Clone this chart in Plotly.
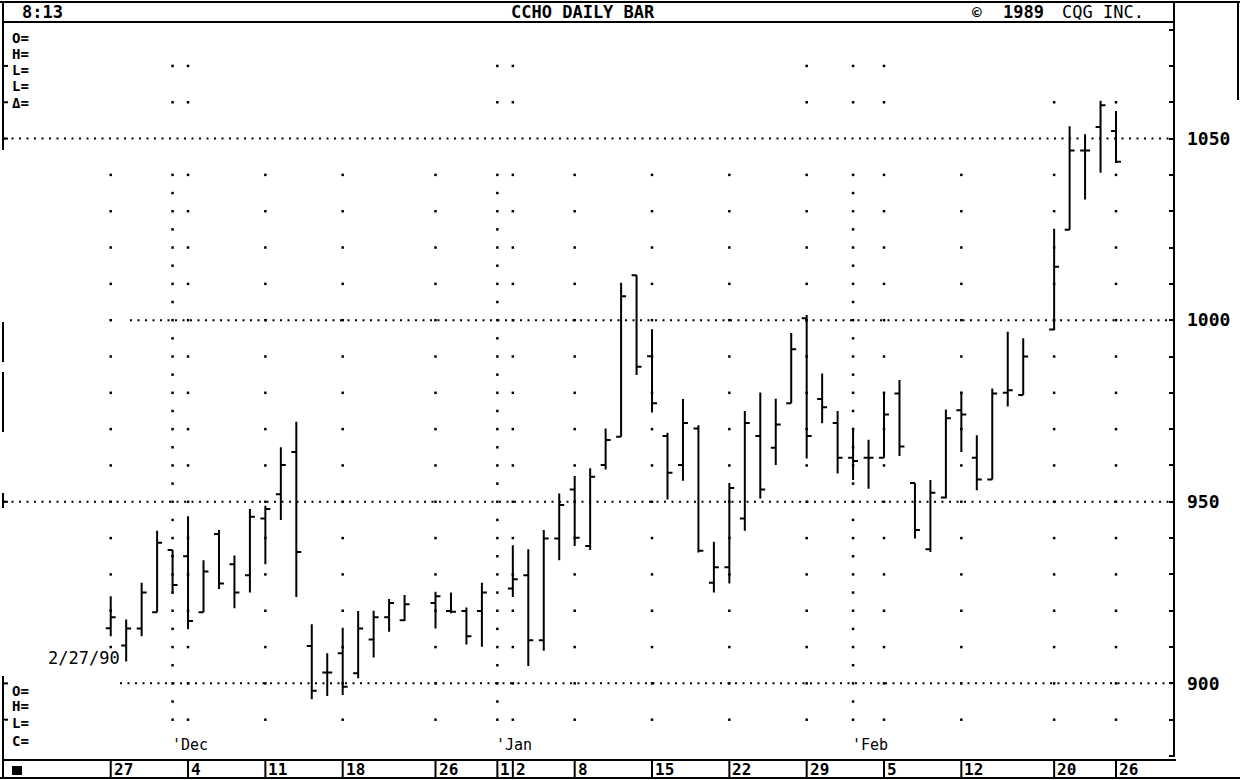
import numpy as np
import plotly.graph_objects as go

# daily bars, Nov 27 1989 - Feb 26 1990
dates = [
    "1989-11-27", "1989-11-28", "1989-11-29", "1989-11-30", "1989-12-01",
    "1989-12-04", "1989-12-05", "1989-12-06", "1989-12-07", "1989-12-08",
    "1989-12-11", "1989-12-12", "1989-12-13", "1989-12-14", "1989-12-15",
    "1989-12-18", "1989-12-19", "1989-12-20", "1989-12-21", "1989-12-22",
    "1989-12-26", "1989-12-27", "1989-12-28", "1989-12-29",
    "1990-01-02", "1990-01-03", "1990-01-04", "1990-01-05",
    "1990-01-08", "1990-01-09", "1990-01-10", "1990-01-11", "1990-01-12",
    "1990-01-15", "1990-01-16", "1990-01-17", "1990-01-18", "1990-01-19",
    "1990-01-22", "1990-01-23", "1990-01-24", "1990-01-25", "1990-01-26",
    "1990-01-29", "1990-01-30", "1990-01-31", "1990-02-01", "1990-02-02",
    "1990-02-05", "1990-02-06", "1990-02-07", "1990-02-08", "1990-02-09",
    "1990-02-12", "1990-02-13", "1990-02-14", "1990-02-15", "1990-02-16",
    "1990-02-20", "1990-02-21", "1990-02-22", "1990-02-23", "1990-02-26",
]
opens = [
    915.2, 910.4, 915.1, 919.6, 936.7,
    935.0, 919.6, 941.1, 932.8, 929.8,
    945.4, 952.1, 963.7, 910.3, 903.0,
    908.3, 902.8, 912.1, 918.2, 917.4,
    922.1, 919.9, 919.9, 919.9,
    926.1, 929.8, 911.9, 939.9,
    953.4, 937.8, 960.1, 967.9, 1012.4,
    990.1, 968.1, 960.1, 970.2, 927.7,
    932.0, 945.4, 968.1, 964.9, 977.1,
    1000.5, 978.3, 971.7, 962.1, 962.1,
    962.1, 979.8, 955.2, 936.9, 951.2,
    975.2, 962.1, 956.1, 980.0, 979.4,
    997.4, 1024.9, 1046.7, 1053.2, 1052.1,
]
highs = [
    924.0, 917.6, 927.7, 942.0, 936.7,
    946.0, 933.9, 942.2, 935.2, 948.0,
    948.9, 965.0, 972.0, 916.3, 908.3,
    915.3, 919.9, 920.0, 923.2, 924.3,
    925.2, 925.0, 920.9, 927.7,
    938.0, 936.9, 942.2, 952.3,
    957.1, 959.2, 970.2, 1010.3, 1012.4,
    997.5, 969.0, 978.3, 971.1, 939.0,
    955.2, 975.0, 980.1, 978.4, 996.5,
    1001.4, 985.3, 975.0, 970.4, 967.1,
    980.0, 983.5, 955.2, 956.0, 975.4,
    980.3, 968.3, 981.2, 996.8, 995.0,
    1025.2, 1053.4, 1051.2, 1060.4, 1057.6,
]
lows = [
    913.0, 906.0, 913.0, 919.6, 924.8,
    914.9, 919.6, 926.0, 920.7, 925.0,
    932.8, 945.0, 923.8, 895.6, 896.5,
    896.8, 901.4, 907.1, 914.2, 917.2,
    915.1, 919.3, 910.7, 910.1,
    923.8, 904.8, 909.0, 933.9,
    937.8, 936.7, 958.9, 967.9, 984.9,
    974.6, 950.6, 955.8, 936.0, 925.0,
    927.5, 942.0, 950.9, 960.1, 977.1,
    961.9, 971.6, 957.8, 956.0, 953.6,
    962.1, 962.6, 939.9, 936.2, 950.9,
    963.7, 953.2, 956.1, 976.2, 979.4,
    997.2, 1024.9, 1033.2, 1040.6, 1043.3,
]
closes = [
    918.2, 915.1, 925.0, 938.7, 927.1,
    917.2, 930.8, 927.5, 925.0, 945.9,
    948.0, 960.1, 936.2, 898.0, 903.0,
    899.1, 915.1, 918.2, 922.1, 921.8,
    924.0, 919.7, 913.0, 925.0,
    928.7, 911.9, 939.9, 949.1,
    940.1, 956.9, 967.0, 1006.6, 987.2,
    977.1, 958.0, 971.7, 936.5, 932.0,
    953.8, 971.7, 953.4, 971.3, 992.0,
    968.1, 976.0, 962.1, 961.2, 962.1,
    974.0, 965.2, 942.2, 952.5, 973.0,
    974.0, 956.1, 979.8, 980.7, 990.0,
    1014.7, 1046.7, 1046.7, 1059.2, 1043.6,
]

# bottom scale
tick_dates = ["1989-11-27", "1989-12-04", "1989-12-11", "1989-12-18", "1989-12-26",
              "1990-01-01", "1990-01-02", "1990-01-08", "1990-01-15", "1990-01-22",
              "1990-01-29", "1990-02-05", "1990-02-12", "1990-02-20", "1990-02-26"]
tick_text = ["27", "4", "11", "18", "26", "1", "2", "8", "15", "22", "29", "5", "12", "20", "26"]
month_dates = ["1989-12-01", "1990-01-01", "1990-02-01"]
month_text = ["'Dec", "'Jan", "'Feb"]

# price scale
price_ticks = list(range(880, 1081, 10))
price_labels = [str(v) if v % 50 == 0 and 900 <= v <= 1050 else "" for v in price_ticks]
price_lines = [1050, 1000, 950, 900]

# dot grid columns
week_cols = ["1989-11-27", "1989-12-04", "1989-12-11", "1989-12-18", "1989-12-26",
             "1990-01-02", "1990-01-08", "1990-01-15", "1990-01-22", "1990-01-29",
             "1990-02-05", "1990-02-12", "1990-02-20", "1990-02-26"]
month_cols = ["1989-12-01", "1990-01-01", "1990-02-01"]
top_cols = ["1989-12-01", "1989-12-04", "1990-01-01", "1990-01-02",
            "1990-01-29", "1990-02-01", "1990-02-05"]
top_cols_1060 = ["1990-02-20", "1990-02-26"]

FONT = "DejaVu Sans Mono"
START = "1989-11-27"


def slot(d):
    # weekday index, holidays stay as gaps
    return int(np.busday_count(START, d))


W, H = 1240, 780
LEFT, RIGHT, TOP, BOTTOM = 4, 1174, 22, 760
Y_RANGE = [878.9, 1082.1]
X_RANGE = [-6.9, 68.75]


def px(x):
    return (x - LEFT) / (RIGHT - LEFT)


def py(y):
    return (BOTTOM - y) / (BOTTOM - TOP)


x = [slot(d) for d in dates]

# grid dots
gx, gy = [], []
for d in week_cols:
    lo = 910 if d == "1989-11-27" else 890
    for v in range(lo, 1041, 10):
        gx.append(slot(d))
        gy.append(v)
for d in month_cols:
    for v in range(890, 1041, 5):
        gx.append(slot(d))
        gy.append(v)
for d in top_cols:
    for v in (1060, 1070):
        gx.append(slot(d))
        gy.append(v)
for d in top_cols_1060:
    gx.append(slot(d))
    gy.append(1060)

fig = go.Figure()

fig.add_trace(go.Scatter(
    x=gx, y=gy, mode="markers",
    marker=dict(symbol="square", size=2.5, color="black"),
    hoverinfo="skip", showlegend=False
))

fig.add_trace(go.Ohlc(
    x=x, open=opens, high=highs, low=lows, close=closes,
    increasing_line_color="black", decreasing_line_color="black",
    line_width=2, tickwidth=0.32, showlegend=False, name="CCHO"
))

shapes = []


def line(x0, y0, x1, y1, xref="paper", yref="paper", width=2, dash=None):
    shapes.append(dict(type="line", x0=x0, y0=y0, x1=x1, y1=y1, xref=xref, yref=yref,
                       line=dict(color="black", width=width, dash=dash), layer="above"))


# dotted price lines
line_starts = {1050: 4, 1000: 130, 950: 4, 900: 120}
for v in price_lines:
    line(px(line_starts[v]), v, 1, v, yref="y", width=2, dash="2px,5.5px")

# frame
line(px(0), py(2), px(1240), py(2))
line(px(4), py(TOP), px(RIGHT), py(TOP))
line(px(RIGHT), py(2), px(RIGHT), py(BOTTOM - 3))
line(px(1238), py(2), px(1238), py(100))
for y0, y1 in [(2, 150), (322, 362), (372, 432), (493, 508), (676, 779)]:
    line(px(3), py(y0), px(3), py(y1))
line(px(4), py(BOTTOM), px(1176), py(BOTTOM))
line(px(0), py(778), px(1240), py(778))
for v in [1070, 1060, 1050, 950, 900, 890]:
    line(px(3), v, px(8), v, yref="y")
for d in tick_dates:
    line(slot(d), py(BOTTOM), slot(d), py(778), xref="x")
shapes.append(dict(type="rect", xref="paper", yref="paper",
                   x0=px(12), x1=px(22), y0=py(775), y1=py(766),
                   fillcolor="black", line=dict(width=0)))

annotations = []


def text(t, x0, y0, size=15, xanchor="left", xref="paper", bold=False, xshift=0):
    if bold:
        t = "<b>" + t + "</b>"
    annotations.append(dict(text=t, x=x0, y=y0, xref=xref, yref="paper",
                            xanchor=xanchor, yanchor="middle", showarrow=False,
                            xshift=xshift,
                            font=dict(family=FONT, size=size, color="black")))


text("8:13", px(20), py(12), size=17, bold=True)
text("CCHO DAILY BAR", px(583), py(12), size=17, xanchor="center", bold=True)
text("©", px(977), py(12), size=16, xanchor="center", bold=True)
text("1989", px(1001), py(12), size=17, bold=True)
text("CQG INC.", px(1060), py(12), size=17)

for t, y0 in [("O=", 38), ("H=", 54), ("L=", 70), ("L=", 86), ("Δ=", 103)]:
    text(t, px(10), py(y0), size=14, bold=True)
for t, y0 in [("O=", 691), ("H=", 706), ("L=", 723), ("C=", 741)]:
    text(t, px(10), py(y0), size=14, bold=True)
text("2/27/90", px(46), py(658), size=17)

for d, t in zip(month_dates, month_text):
    text(t, slot(d), py(745), size=15, xref="x", xshift=-3)
for d, t in zip(tick_dates, tick_text):
    text(t, slot(d), py(769), size=16, xref="x", xshift=1, bold=True)

fig.update_layout(
    width=W, height=H, autosize=False,
    margin=dict(l=LEFT, r=W - RIGHT, t=TOP, b=H - BOTTOM, pad=0),
    paper_bgcolor="white", plot_bgcolor="white",
    showlegend=False,
    xaxis=dict(range=X_RANGE, visible=False, rangeslider=dict(visible=False),
               showgrid=False, zeroline=False),
    yaxis=dict(range=Y_RANGE, side="right", showgrid=False, zeroline=False,
               showline=False, tickvals=price_ticks, ticktext=price_labels,
               ticks="inside", ticklen=5, tickwidth=2, tickcolor="black",
               ticklabelstandoff=12,
               tickfont=dict(family=FONT, size=18, color="black", weight="bold")),
    shapes=shapes,
    annotations=annotations,
)

# the page's default body margin would push the 1240x780 figure off the window
fig.write_html("out.html", config={"displayModeBar": False},
               post_script="document.body.style.margin='0';"
                           "document.body.style.overflow='hidden';")
